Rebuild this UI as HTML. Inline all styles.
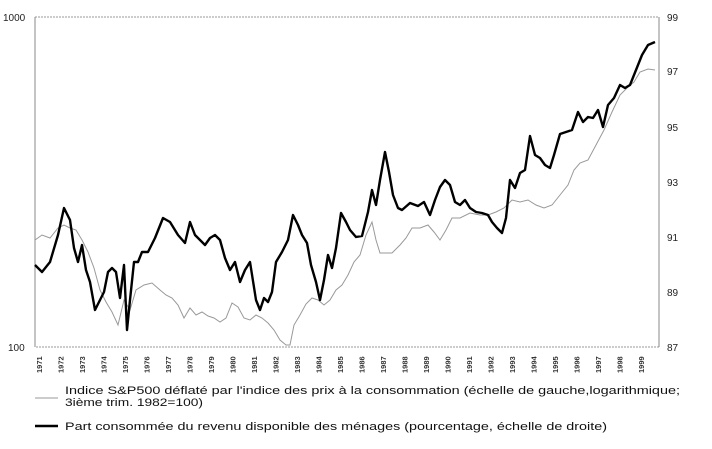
<!DOCTYPE html>
<html><head><style>
body{margin:0;background:#fff;width:712px;height:444px;overflow:hidden;font-family:"Liberation Sans",Arial,sans-serif}
</style></head><body>
<svg width="712" height="444" viewBox="0 0 712 444" xmlns="http://www.w3.org/2000/svg" font-family="Liberation Sans, Arial, sans-serif">
<rect x="35" y="17" width="624" height="330" fill="none" stroke="#999" stroke-width="1" stroke-dasharray="2,1"/>
<line x1="35" y1="17" x2="35" y2="347" stroke="#888"/>
<line x1="659" y1="17" x2="659" y2="347" stroke="#888"/>
<g font-size="10" fill="#222">
<text x="3" y="21">1000</text>
<text x="8" y="351">100</text>
<text x="667" y="21">99</text><text x="667" y="75">97</text><text x="667" y="131">95</text><text x="667" y="186">93</text><text x="667" y="241">91</text><text x="667" y="296">89</text><text x="667" y="351">87</text>
</g>
<g font-size="7.5" fill="#333" font-weight="bold">
<text transform="translate(42,373) rotate(-90)">1971</text>
<text transform="translate(63.5,373) rotate(-90)">1972</text>
<text transform="translate(85,373) rotate(-90)">1973</text>
<text transform="translate(106.5,373) rotate(-90)">1974</text>
<text transform="translate(128,373) rotate(-90)">1975</text>
<text transform="translate(149.5,373) rotate(-90)">1976</text>
<text transform="translate(171,373) rotate(-90)">1977</text>
<text transform="translate(192.5,373) rotate(-90)">1978</text>
<text transform="translate(214,373) rotate(-90)">1979</text>
<text transform="translate(235.5,373) rotate(-90)">1980</text>
<text transform="translate(257,373) rotate(-90)">1981</text>
<text transform="translate(278.5,373) rotate(-90)">1982</text>
<text transform="translate(300,373) rotate(-90)">1983</text>
<text transform="translate(321.5,373) rotate(-90)">1984</text>
<text transform="translate(343,373) rotate(-90)">1985</text>
<text transform="translate(364.5,373) rotate(-90)">1986</text>
<text transform="translate(386,373) rotate(-90)">1987</text>
<text transform="translate(407.5,373) rotate(-90)">1988</text>
<text transform="translate(429,373) rotate(-90)">1989</text>
<text transform="translate(450.5,373) rotate(-90)">1990</text>
<text transform="translate(472,373) rotate(-90)">1991</text>
<text transform="translate(493.5,373) rotate(-90)">1992</text>
<text transform="translate(515,373) rotate(-90)">1993</text>
<text transform="translate(536.5,373) rotate(-90)">1994</text>
<text transform="translate(558,373) rotate(-90)">1995</text>
<text transform="translate(579.5,373) rotate(-90)">1996</text>
<text transform="translate(601,373) rotate(-90)">1997</text>
<text transform="translate(622.5,373) rotate(-90)">1998</text>
<text transform="translate(644,373) rotate(-90)">1999</text>
</g>
<polyline fill="none" stroke="#999" stroke-width="1" points="35,240 42,235 50,238 58,228 64,225 70,228 76,230 82,240 88,252 94,268 100,290 106,302 112,312 118,325 124,300 130,310 136,290 144,285 152,283 160,290 166,295 172,298 178,305 184,318 190,308 196,315 202,312 208,316 214,318 220,322 226,318 232,303 238,307 244,318 250,320 256,315 262,318 268,323 274,330 280,340 286,345 290,345 294,325 300,315 306,304 312,298 318,300 324,305 330,300 336,290 342,285 348,275 354,262 360,255 366,235 372,222 376,240 380,253 392,253 400,245 406,238 412,228 420,228 428,225 434,232 440,240 446,230 452,218 460,218 470,213 480,215 488,215 496,212 504,208 512,200 520,202 528,200 536,205 544,208 552,205 560,195 568,185 574,170 580,163 588,160 596,145 604,130 612,112 620,95 628,87 634,82 640,72 648,69 655,70"/>
<polyline fill="none" stroke="#000" stroke-width="2.4" stroke-linejoin="round" points="35,265 42,272 50,262 58,235 64,208 70,220 74,248 78,262 82,245 86,270 90,282 95,310 100,300 104,292 108,272 112,268 116,272 120,298 124,265 127,330 130,300 134,262 138,262 142,252 148,252 155,238 163,218 170,222 178,235 185,243 190,222 195,235 200,240 205,245 210,238 215,235 220,240 225,258 230,270 235,262 240,282 245,270 250,262 256,300 260,310 264,298 268,302 272,292 276,262 282,252 288,240 293,215 298,225 302,235 307,243 311,265 316,282 320,300 324,280 328,255 332,268 336,248 341,213 346,222 350,230 356,237 362,236 368,212 372,190 376,205 380,180 385,152 389,172 393,195 398,208 402,210 410,203 418,206 424,202 430,215 435,200 440,187 445,180 450,185 455,202 460,205 465,200 470,208 476,212 482,213 488,215 492,222 497,228 502,233 506,218 510,180 515,188 520,173 525,170 530,136 535,155 540,158 545,165 550,168 554,155 560,134 566,132 572,130 578,112 583,122 588,117 593,118 598,110 603,127 608,105 614,98 620,85 625,88 630,85 636,70 642,55 648,45 655,42"/>
<line x1="35" y1="398" x2="58" y2="398" stroke="#999" stroke-width="1"/>
<line x1="35" y1="426" x2="58" y2="426" stroke="#000" stroke-width="2.5"/>
<g font-size="11" fill="#111">
<text x="65" y="394" textLength="615" lengthAdjust="spacingAndGlyphs">Indice S&amp;P500 déflaté par l'indice des prix à la consommation (échelle de gauche,logarithmique;</text>
<text x="65" y="406" textLength="138" lengthAdjust="spacingAndGlyphs">3ième trim. 1982=100)</text>
<text x="65" y="430" textLength="542" lengthAdjust="spacingAndGlyphs">Part consommée du revenu disponible des ménages (pourcentage, échelle de droite)</text>
</g>
</svg>
</body></html>
